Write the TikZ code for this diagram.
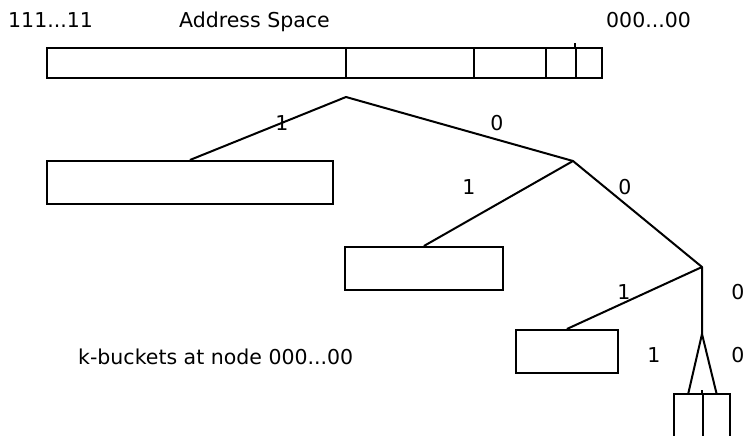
\documentclass[tikz,border=0pt]{standalone}
\usepackage{fontspec}
\setmainfont{DejaVu Sans}
\begin{document}
\begin{tikzpicture}[x=1pt,y=-1pt,
  lbl/.style={inner sep=0pt,anchor=base,font=\fontsize{20.5}{24}\selectfont},
  txt/.style={inner sep=0pt,anchor=base west,font=\fontsize{20.5}{24}\selectfont},
  bucket/.style={draw,line width=1.8pt,inner sep=0pt,minimum width=#1,anchor=north west},
  seg/.style={draw,line width=1.8pt,inner sep=0pt,minimum height=30pt,minimum width=#1,anchor=north west},
  branch/.style={line width=2pt,line join=round}]
\clip (0,0) rectangle (745,436);
\fill[white] (0,0) rectangle (745,436);
% texts
\node[txt] (lo) at (8,28) {111...11};
\node[txt] (as) at (179,28) {Address Space};
\node[txt] (hi) at (606,28) {000...00};
\node[txt] (kb) at (78,364) {k-buckets at node 000...00};
% address space bar
\node[seg=299pt] (s1) at (46,47) {};
\node[seg=128pt] (s2) at (345,47) {};
\node[seg=72pt] (s3) at (473,47) {};
\node[seg=30pt] (s4) at (545,47) {};
\node[seg=26pt] (s5) at (575,47) {};
\coordinate (tick) at (575,43);
\draw[line width=1.8pt] (s5.north west) -- (tick);
% tree points
\coordinate (r) at (346,97);
\coordinate (n1) at (573,161);
\coordinate (n2) at (702,267);
\coordinate (n3) at (702,334);
% buckets
\node[bucket=286pt,minimum height=43pt] (b1) at (46,160) {};
\node[bucket=158pt,minimum height=43pt] (b2) at (344,246) {};
\node[bucket=102pt,minimum height=43pt] (b3) at (515,329) {};
\node[bucket=29pt,minimum height=60pt] (l1) at (673,393) {};
\node[bucket=27pt,minimum height=60pt] (l2) at (702,393) {};
\coordinate (ltick) at (702,390);
\draw[line width=1.8pt] (l2.north west) -- (ltick);
% branches
\draw[branch] (b1.north) -- (r) -- (n1);
\draw[branch] (b2.north) -- (n1) -- (n2);
\draw[branch] (b3.north) -- (n2) -- (n3);
\draw[branch] (l1.north) -- (n3) -- (l2.north);
% labels
\node[lbl] (e1) at (282,130) {1};
\node[lbl] (e0) at (497,130) {0};
\node[lbl] (f1) at (469,194) {1};
\node[lbl] (f0) at (625,194) {0};
\node[lbl] (g1) at (624,299) {1};
\node[lbl] (g0) at (738,299) {0};
\node[lbl] (h1) at (654,362) {1};
\node[lbl] (h0) at (738,362) {0};
\end{tikzpicture}
\end{document}
